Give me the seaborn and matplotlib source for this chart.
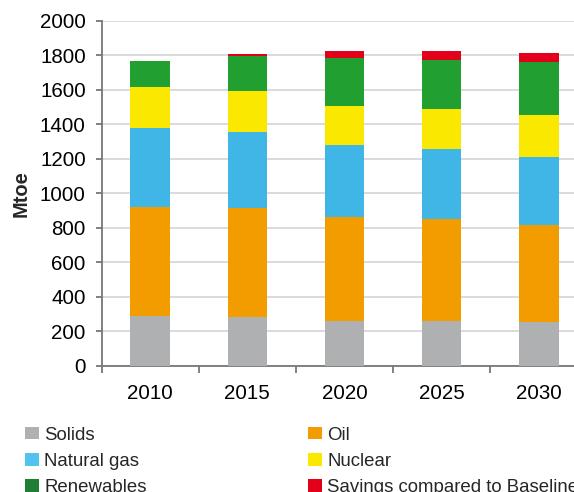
import matplotlib
matplotlib.use("Agg")
import matplotlib.pyplot as plt
import matplotlib.patches as mpatches
import seaborn as sns
import numpy as np
import pandas as pd

years = ["2010", "2015", "2020", "2025", "2030"]
solids = [290, 282, 259, 259, 253]
oil = [629, 632, 602, 591, 562]
natural_gas = [460, 440, 418, 405, 394]
nuclear = [236, 237, 226, 232, 243]
renewables = [150, 203, 278, 284, 308]
savings = [0, 14, 40, 52, 52]

series_names = ["Solids", "Oil", "Natural gas", "Nuclear", "Renewables",
                "Savings compared to Baseline"]
series_vals = [solids, oil, natural_gas, nuclear, renewables, savings]
colors = ["#AFB0B2", "#F39C00", "#3FB6E6", "#FAE800", "#21A031", "#E3001B"]
legend_colors = ["#AFB0B2", "#F39C00", "#52C3EE", "#FAE800", "#1F7E33", "#E3001B"]

sns.set_theme(style="white")
plt.rcParams["font.family"] = ["Liberation Sans", "DejaVu Sans"]

fig = plt.figure(figsize=(5.74, 4.92), dpi=100)
ax = fig.add_axes([101.5 / 574, 126.5 / 492, 486 / 574, 344.5 / 492])

cum = np.cumsum(np.array(series_vals), axis=0)
# draw from the top layer down so each lower cumulative total overlays
for i in range(len(series_names) - 1, -1, -1):
    df = pd.DataFrame({"year": years, "value": cum[i]})
    sns.barplot(data=df, x="year", y="value", color=colors[i], width=0.406,
                saturation=1, ax=ax, zorder=3, linewidth=0)

ax.set_ylim(0, 2000)
ax.set_xlim(-0.5, 4.5)
ax.set_yticks(np.arange(0, 2001, 200))
ax.yaxis.grid(True, color="#DADADA", linewidth=1.4, zorder=0)
ax.set_axisbelow(True)
for s in ["top", "right"]:
    ax.spines[s].set_visible(False)
for s in ["left", "bottom"]:
    ax.spines[s].set_color("#777777")
    ax.spines[s].set_linewidth(1.3)

# x ticks at category boundaries, labels at centers
ax.set_xticks(np.arange(-0.5, 4.6, 1.0))
ax.set_xticklabels([])
ax.set_xticks(np.arange(0, 5), minor=True)
ax.set_xticklabels(years, minor=True)
ax.tick_params(axis="x", which="major", direction="out", length=5, width=1.3,
               color="#777777", bottom=True)
ax.tick_params(axis="x", which="minor", length=0, pad=13, labelsize=14.8,
               labelcolor="black")
ax.tick_params(axis="y", direction="out", length=4.3, width=1.3, color="#777777",
               left=True, pad=7, labelsize=14.8, labelcolor="black")
ax.set_xlabel("")
ax.set_ylabel("Mtoe", fontsize=14.5, fontweight="bold", labelpad=7)

handles = [mpatches.Patch(facecolor=c, edgecolor="none") for c in legend_colors]
col1 = [0, 2, 4]
col2 = [1, 3, 5]
for cols, x0 in [(col1, 25 / 574), (col2, 308 / 574)]:
    fig.legend([handles[i] for i in cols], [series_names[i] for i in cols],
               loc="upper left", bbox_to_anchor=(x0, 1 - 426.5 / 492),
               frameon=False, fontsize=13.4, handlelength=0.76, handleheight=0.66,
               handletextpad=0.28, labelspacing=0.5, borderpad=0, borderaxespad=0)

fig.savefig("out.png", dpi=100)
